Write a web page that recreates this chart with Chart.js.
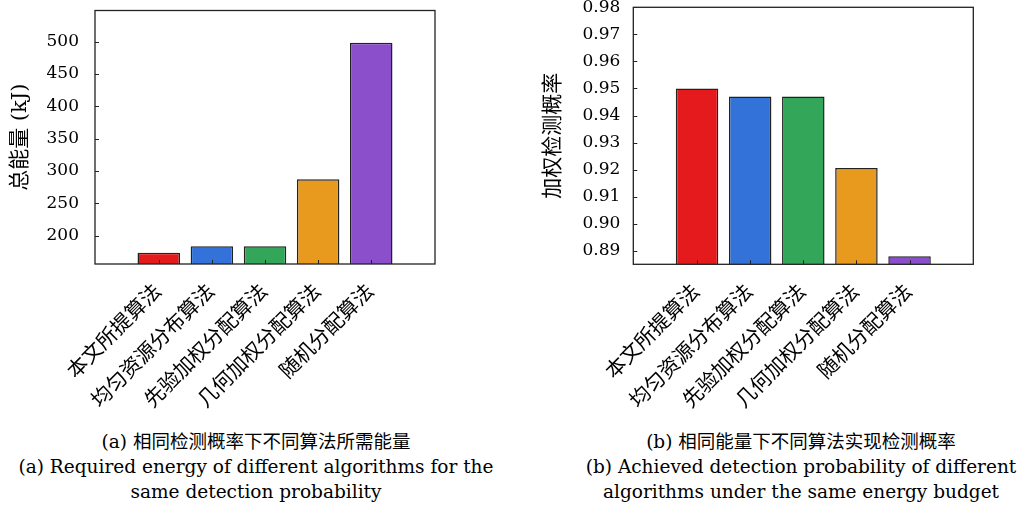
<!DOCTYPE html>
<html>
<head>
<meta charset="utf-8">
<script src="https://cdn.jsdelivr.net/npm/chart.js@4.4.0/dist/chart.umd.min.js"></script>
<style>
  body { margin: 0; background: #fff; width: 1022px; height: 509px; position: relative; overflow: hidden;
         font-family: "DejaVu Serif", "Noto Sans CJK SC", serif; color: #000; }
  canvas { position: absolute; top: 0; }
  #chartA { left: 0; }
  #chartB { left: 511px; }
  .caption { position: absolute; top: 429px; text-align: center; font-size: 18.5px; line-height: 25px; white-space: nowrap; }
  #capA { left: 0; width: 512px; }
  #capB { left: 560px; width: 482px; }
</style>
</head>
<body>
<canvas id="chartA" width="511" height="420"></canvas>
<canvas id="chartB" width="511" height="420"></canvas>
<div class="caption" id="capA">(a) 相同检测概率下不同算法所需能量<br>(a) Required energy of different algorithms for the<br>same detection probability</div>
<div class="caption" id="capB">(b) 相同能量下不同算法实现检测概率<br>(b) Achieved detection probability of different<br>algorithms under the same energy budget</div>
<script>
// --- Data ---
const algorithms = ["本文所提算法", "均匀资源分布算法", "先验加权分配算法", "几何加权分配算法", "随机分配算法"];
const energyKJ = [173.5, 183.7, 183.7, 287.2, 498.5];
const detectionProb = [0.950, 0.947, 0.947, 0.9206, 0.888];
const energyTicks = [200, 250, 300, 350, 400, 450, 500];
const probTicks = [0.89, 0.90, 0.91, 0.92, 0.93, 0.94, 0.95, 0.96, 0.97, 0.98];
const barColors = ["#e41a1c", "#3373d9", "#33a65a", "#e89a1e", "#8b4fcc"];

Chart.defaults.font.family = '"DejaVu Serif", "Noto Sans CJK SC", serif';
Chart.defaults.color = "#000";

// --- Frame + inward ticks ---
const framePlugin = {
  id: "frame",
  afterDraw(chart) {
    const { ctx, chartArea: a, scales } = chart;
    ctx.save();
    ctx.strokeStyle = "#222";
    ctx.lineWidth = 1.3;
    ctx.strokeRect(a.left, a.top, a.right - a.left, a.bottom - a.top);
    ctx.lineWidth = 1;
    ctx.beginPath();
    scales.x.ticks.forEach(t => {
      const px = Math.round(scales.x.getPixelForValue(t.value)) + 0.5;
      ctx.moveTo(px, a.bottom);
      ctx.lineTo(px, a.bottom - 4);
    });
    scales.y.ticks.forEach(t => {
      const py = Math.round(scales.y.getPixelForValue(t.value)) + 0.5;
      ctx.moveTo(a.left, py);
      ctx.lineTo(a.left + 4, py);
    });
    ctx.stroke();
    ctx.restore();
  }
};

function makeChart(id, values, yTicks, cfg) {
  return new Chart(document.getElementById(id), {
    type: "bar",
    data: {
      datasets: [{
        data: values.map((v, i) => ({ x: i, y: v })),
        backgroundColor: barColors,
        borderColor: "#222",
        borderWidth: 1.5,
        barPercentage: 0.8,
        categoryPercentage: 1.0
      }]
    },
    options: {
      responsive: false,
      animation: false,
      layout: { padding: cfg.padding },
      plugins: { legend: { display: false }, tooltip: { enabled: false } },
      scales: {
        x: {
          type: "linear",
          offset: false,
          min: -1.2,
          max: 5.2,
          grid: { display: false },
          border: { display: false },
          afterBuildTicks: s => { s.ticks = algorithms.map((c, i) => ({ value: i })); },
          afterFit: s => { s.height = cfg.xHeight; s.paddingLeft = 0; s.paddingRight = 0; },
          ticks: {
            autoSkip: false,
            minRotation: 45,
            maxRotation: 45,
            padding: 8,
            font: { size: 20.5 },
            callback: v => algorithms[Math.round(v)]
          }
        },
        y: {
          min: cfg.yMin,
          max: cfg.yMax,
          grid: { display: false },
          border: { display: false },
          afterBuildTicks: s => { s.ticks = yTicks.map(v => ({ value: v })); },
          afterFit: s => { s.width = cfg.yWidth; s.paddingTop = 0; s.paddingBottom = 0; },
          ticks: {
            padding: cfg.tickPad,
            font: { size: 17 },
            callback: cfg.fmt
          },
          title: {
            display: true,
            text: cfg.title,
            font: { size: 21 },
            padding: { top: cfg.titlePad, bottom: 0 }
          }
        }
      }
    },
    plugins: [framePlugin]
  });
}

makeChart("chartA", energyKJ, energyTicks, {
  padding: { top: 10.5, right: 76, bottom: 0, left: 0 },
  xHeight: 156, yWidth: 95, yMin: 156.2, yMax: 548.3,
  tickPad: 8, titlePad: 8, title: "总能量 (kJ)",
  fmt: v => String(v)
});

makeChart("chartB", detectionProb, probTicks, {
  padding: { top: 7.3, right: 48.7, bottom: 0, left: 0 },
  xHeight: 155.7, yWidth: 122.3, yMin: 0.885, yMax: 0.98,
  tickPad: 5, titlePad: 30, title: "加权检测概率",
  fmt: v => v.toFixed(2)
});
</script>
</body>
</html>
